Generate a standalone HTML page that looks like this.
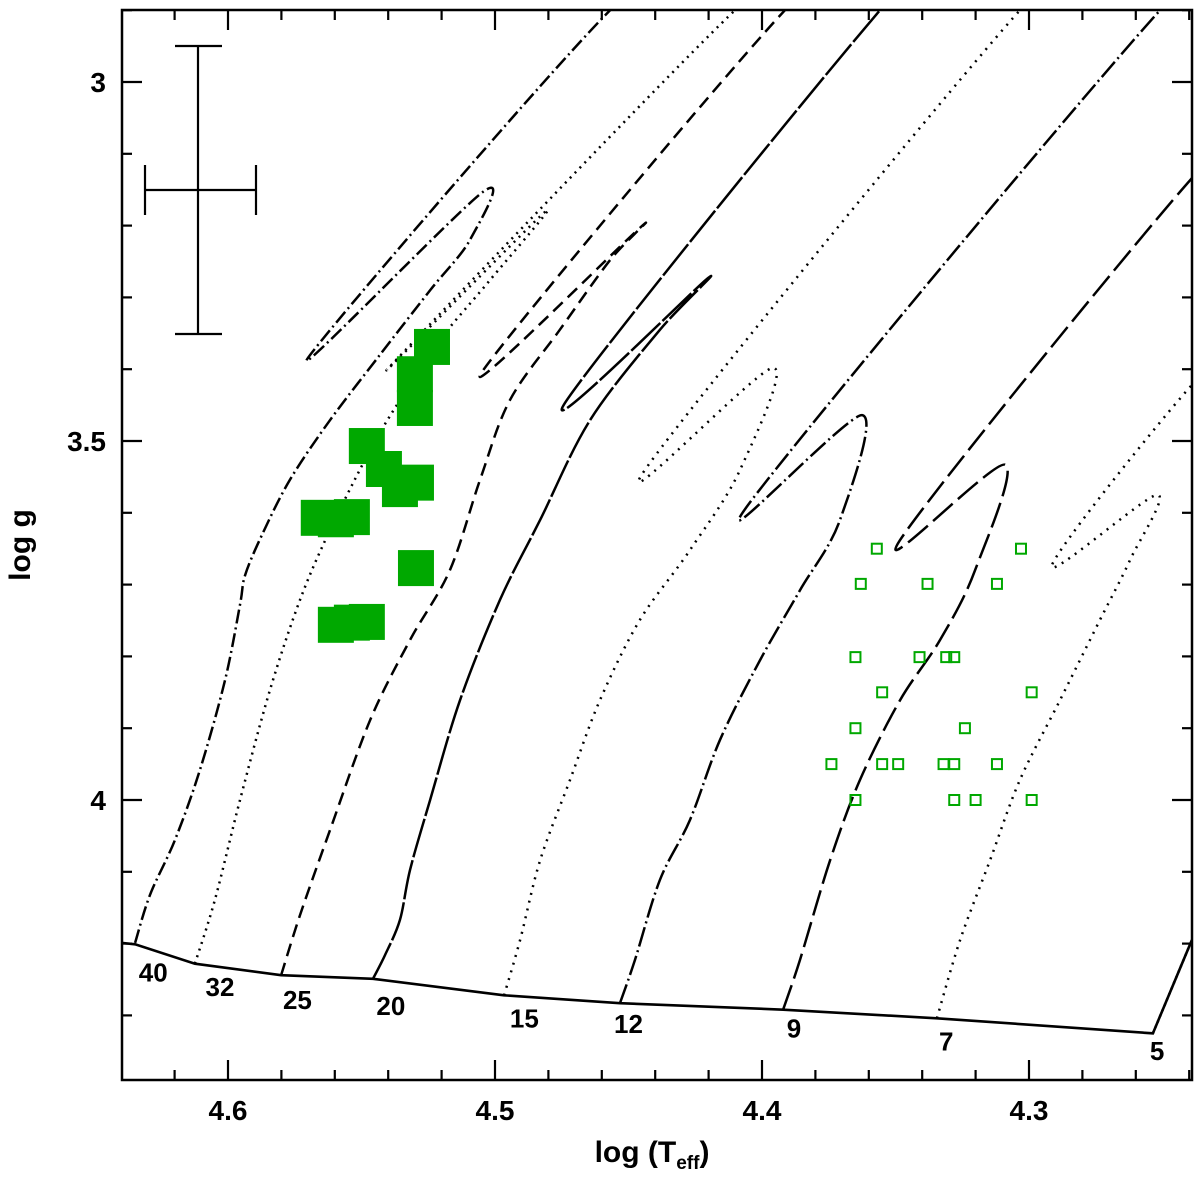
<!DOCTYPE html>
<html><head><meta charset="utf-8"><style>
html,body{margin:0;padding:0;background:#fff;}
svg{display:block;font-family:"Liberation Sans",sans-serif;}
</style></head><body>
<svg id="chart" width="1200" height="1181" viewBox="0 0 1200 1181" xmlns="http://www.w3.org/2000/svg">
<defs><clipPath id="clip"><rect x="122" y="10" width="1070" height="1070"/></clipPath></defs>
<g id="tracks" clip-path="url(#clip)"></g>
<g id="pts"></g>
<g id="axes"></g>
<rect x="122" y="10" width="1070" height="1070" fill="none" stroke="#000" stroke-width="2.5"/>
<g stroke="#000" stroke-width="2.2" fill="none">
<line x1="198" y1="46" x2="198" y2="334"/><line x1="175" y1="46" x2="222" y2="46"/><line x1="175" y1="334" x2="222" y2="334"/>
<line x1="145" y1="190" x2="256" y2="190"/><line x1="145" y1="165" x2="145" y2="215"/><line x1="256" y1="165" x2="256" y2="215"/>
</g>
<text x="652" y="1162" font-size="30" font-weight="600" text-anchor="middle">log (T<tspan font-size="19" dy="7" font-weight="bold">eff</tspan><tspan dy="-7">)</tspan></text>
<text transform="translate(30,545) rotate(-90)" font-size="30" font-weight="600" text-anchor="middle">log g</text>
</svg>
<script>
const xTicks=[4.6,4.5,4.4,4.3];
const yTicks=[3,3.5,4];
const massLabels=["40","32","25","20","15","12","9","7","5"];
const zams=[[4.6397,4.199],[4.6348,4.201],[4.6124,4.228],[4.5801,4.244],[4.5457,4.249],[4.4966,4.272],[4.4532,4.283],[4.3921,4.292],[4.3345,4.304],[4.2536,4.325],[4.239,4.195]];
const t40=[[4.6348,4.199],[4.6292,4.132],[4.6199,4.056],[4.6105,3.958],[4.6011,3.833],[4.5955,3.728],[4.5936,3.687],[4.5873,3.631],[4.5768,3.554],[4.5618,3.471],[4.5431,3.380],[4.5243,3.290],[4.5094,3.220],[4.5045,3.153],[4.570,3.384],[4.4569,2.90],[4.43,2.86]];
const t32=[[4.6124,4.228],[4.6049,4.139],[4.5955,4.000],[4.5843,3.847],[4.5730,3.721],[4.5618,3.624],[4.5468,3.513],[4.5356,3.443],[4.5206,3.359],[4.5019,3.276],[4.4813,3.181],[4.5393,3.396],[4.4101,2.90],[4.39,2.87]];
const t25=[[4.5801,4.244],[4.5730,4.160],[4.5618,4.042],[4.5468,3.889],[4.5318,3.777],[4.5169,3.680],[4.5056,3.554],[4.4944,3.443],[4.4757,3.345],[4.4569,3.248],[4.4457,3.203],[4.5049,3.404],[4.3914,2.90],[4.37,2.87]];
const t20=[[4.5457,4.249],[4.5412,4.216],[4.5356,4.167],[4.5318,4.097],[4.5243,4.000],[4.5131,3.861],[4.4981,3.721],[4.4831,3.610],[4.4644,3.471],[4.4382,3.345],[4.4202,3.273],[4.4738,3.447],[4.3558,2.90],[4.34,2.87]];
const t15=[[4.4966,4.272],[4.4906,4.195],[4.4831,4.084],[4.4719,3.972],[4.4607,3.861],[4.4457,3.749],[4.4270,3.652],[4.4082,3.540],[4.3959,3.398],[4.4438,3.540],[4.3034,2.90],[4.28,2.86]];
const t12=[[4.4532,4.283],[4.4476,4.223],[4.4382,4.111],[4.4270,4.028],[4.4157,3.916],[4.4007,3.805],[4.3858,3.708],[4.3708,3.610],[4.3625,3.464],[4.4052,3.589],[4.2509,2.90],[4.23,2.87]];
const t9=[[4.3921,4.292],[4.3858,4.223],[4.3745,4.084],[4.3633,3.972],[4.3483,3.861],[4.3333,3.777],[4.3202,3.680],[4.3090,3.533],[4.3483,3.638],[4.2390,3.134],[4.22,3.10]];
const t7=[[4.3345,4.304],[4.3258,4.195],[4.3146,4.084],[4.3034,3.972],[4.2884,3.861],[4.2734,3.749],[4.2622,3.666],[4.2521,3.575],[4.2914,3.673],[4.2390,3.422],[4.22,3.38]];
const t5=[[4.2536,4.325],[4.2390,4.195]];
const hotTeff=[4.5236,4.530,4.530,4.548,4.5416,4.5356,4.5296,4.566,4.5596,4.5536,4.5296,4.5596,4.5536,4.548];
const hotLogg=[3.369,3.407,3.454,3.507,3.539,3.567,3.558,3.607,3.609,3.606,3.677,3.756,3.753,3.752];
const coolTeff=[4.357,4.363,4.338,4.312,4.303,4.365,4.341,4.331,4.328,4.355,4.299,4.365,4.324,4.374,4.355,4.349,4.332,4.328,4.312,4.365,4.328,4.320,4.299];
const coolLogg=[3.650,3.699,3.699,3.699,3.650,3.801,3.801,3.801,3.801,3.850,3.850,3.900,3.900,3.950,3.950,3.950,3.950,3.950,3.950,4.000,4.000,4.000,4.000];

const X=v=>228+(4.6-v)*2670;
const Y=v=>82+(v-3)*718;
const NS="http://www.w3.org/2000/svg";
function mk(tag,parent,attrs){const e=document.createElementNS(NS,tag);for(const k in attrs)e.setAttribute(k,attrs[k]);parent.appendChild(e);return e;}
function smoothPath(d){
  const p=d.map(q=>[X(q[0]),Y(q[1])]);
  let s='M'+p[0][0]+','+p[0][1];
  for(let i=0;i<p.length-1;i++){
    const p0=p[i-1]||p[i],p1=p[i],p2=p[i+1],p3=p[i+2]||p2;
    const k=0.16;
    const c1=[p1[0]+(p2[0]-p0[0])*k,p1[1]+(p2[1]-p0[1])*k];
    const c2=[p2[0]-(p3[0]-p1[0])*k,p2[1]-(p3[1]-p1[1])*k];
    s+=' C'+c1[0]+','+c1[1]+' '+c2[0]+','+c2[1]+' '+p2[0]+','+p2[1];
  }
  return s;
}
const tg=document.getElementById('tracks'),pg=document.getElementById('pts'),ag=document.getElementById('axes');
const trackDefs=[[t40,"14 4 2 4","track-40"],[t32,"2 5","track-32"],[t25,"13 7","track-25"],[t20,"40 3","track-20"],[t15,"2 6","track-15"],[t12,"20 4 2 4","track-12"],[t9,"26 7","track-9"],[t7,"2 6","track-7"],[t5,"2 4","track-5"]];
for(const [d,dash,name] of trackDefs){
  const p=mk('path',tg,{d:smoothPath(d),fill:'none',stroke:'#000','stroke-width':2.5,'stroke-dasharray':dash,'stroke-linejoin':'round'});
  
  
}
const z=mk('polyline',tg,{points:zams.map(q=>X(q[0])+','+Y(q[1])).join(' '),fill:'none',stroke:'#000','stroke-width':2.6});


const labelPos=[[4.628,4.25],[4.603,4.27],[4.574,4.288],[4.539,4.297],[4.489,4.314],[4.45,4.322],[4.388,4.328],[4.331,4.346],[4.252,4.359]];
massLabels.forEach((l,i)=>{const t=mk('text',ag,{x:X(labelPos[i][0]),y:Y(labelPos[i][1])+2,'font-size':26,'font-weight':600,'text-anchor':'middle'});t.textContent=l;
  
  });
hotTeff.forEach((v,i)=>{const r=mk('rect',pg,{x:X(v)-18,y:Y(hotLogg[i])-18,width:36,height:36,fill:'#00a800'});
  
  });
coolTeff.forEach((v,i)=>{const r=mk('rect',pg,{x:X(v)-5,y:Y(coolLogg[i])-5,width:10,height:10,fill:'none',stroke:'#00a800','stroke-width':2});
  
  });
for(let k=0;k<=20;k++){const v=4.64-k*0.02;const x=X(v);if(x<122||x>1192)continue;const major=Math.abs(v*10-Math.round(v*10))<1e-6;const L=major?20:10;
  mk('line',ag,{x1:x,y1:1080,x2:x,y2:1080-L,stroke:'#000','stroke-width':2.2});mk('line',ag,{x1:x,y1:10,x2:x,y2:10+L,stroke:'#000','stroke-width':2.2});}
for(let k=0;k<=15;k++){const v=2.9+k*0.1;const y=Y(v);if(y<10||y>1080)continue;const major=Math.abs(v*2-Math.round(v*2))<1e-6;const L=major?20:10;
  mk('line',ag,{x1:122,y1:y,x2:122+L,y2:y,stroke:'#000','stroke-width':2.2});mk('line',ag,{x1:1192,y1:y,x2:1192-L,y2:y,stroke:'#000','stroke-width':2.2});}
xTicks.forEach(v=>{const t=mk('text',ag,{x:X(v),y:1120,'font-size':28,'font-weight':600,'text-anchor':'middle'});t.textContent=v.toFixed(1);
  
  });
yTicks.forEach(v=>{const t=mk('text',ag,{x:106,y:Y(v)+10,'font-size':28,'font-weight':600,'text-anchor':'end'});t.textContent=String(v);
  
  });
</script>
</body></html>
